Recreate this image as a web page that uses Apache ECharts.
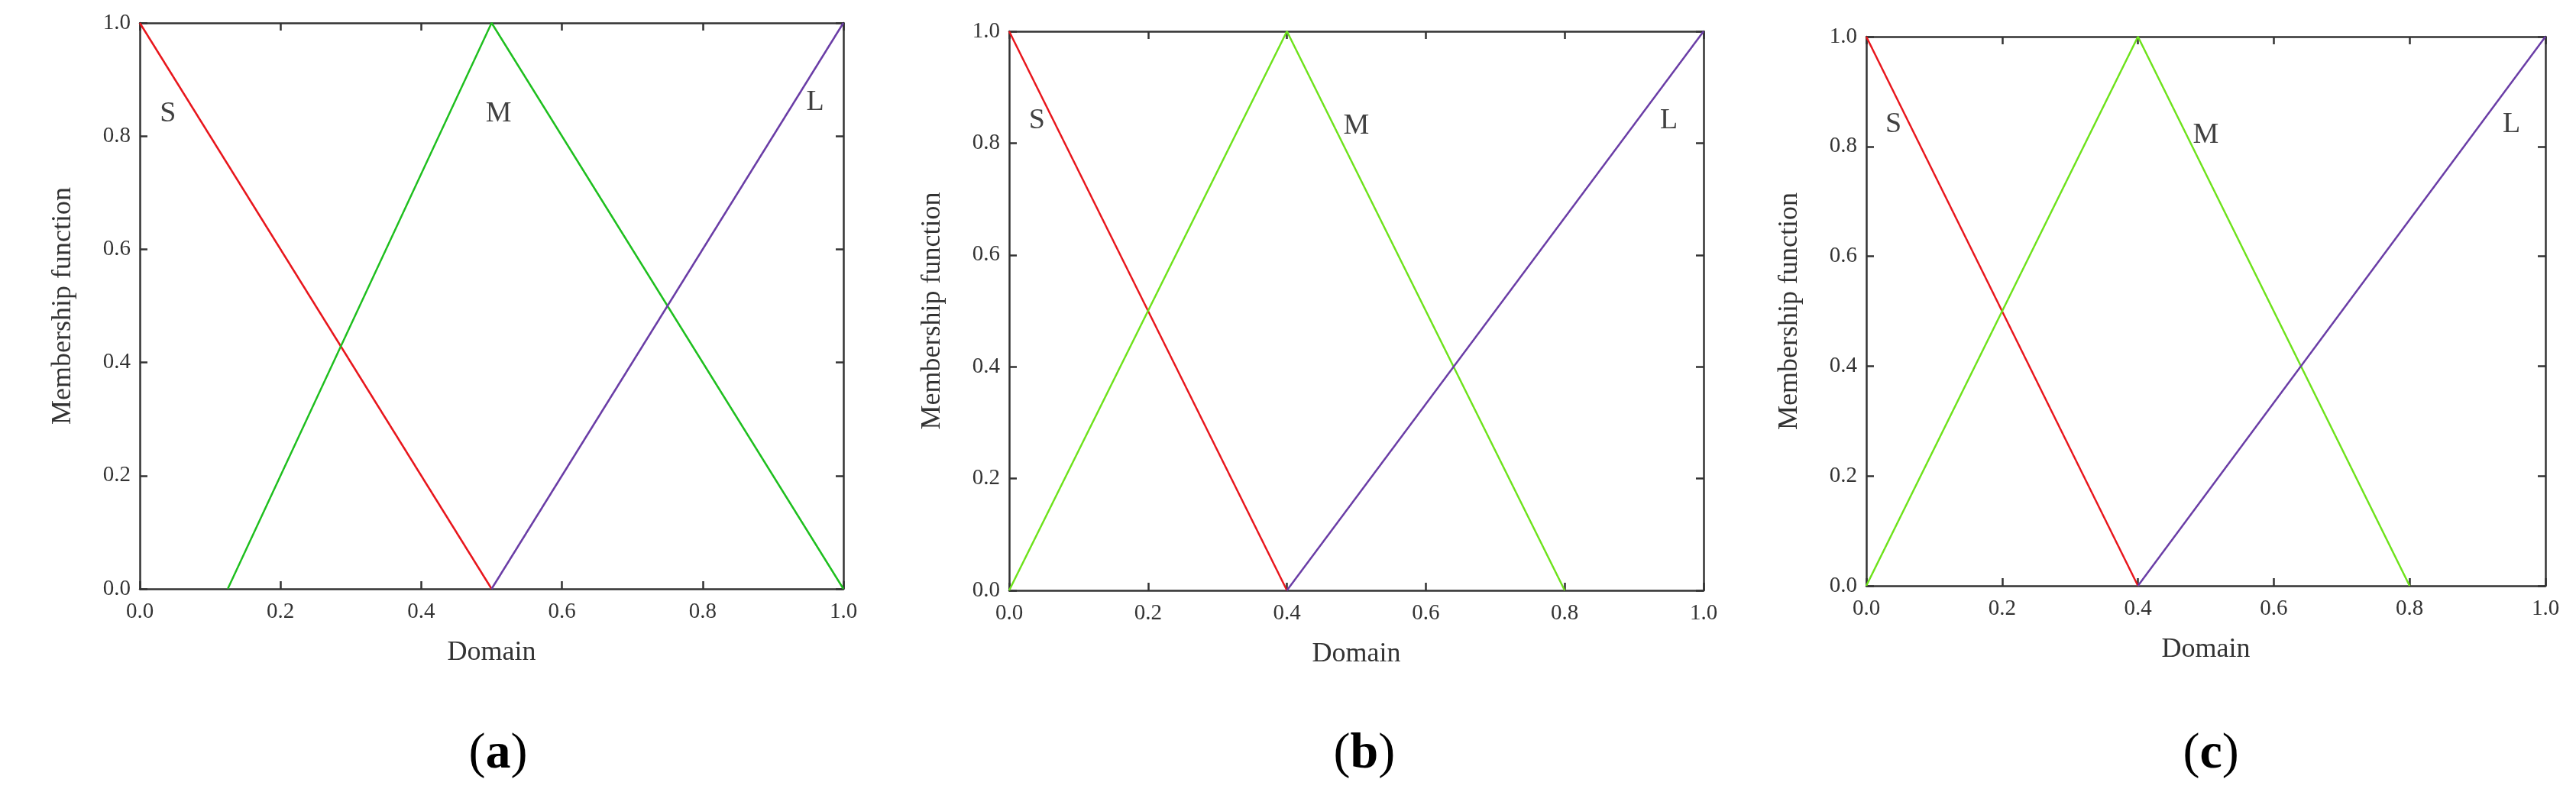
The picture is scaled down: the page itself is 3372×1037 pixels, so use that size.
<!DOCTYPE html>
<html lang="en">
<head>
    <meta charset="UTF-8">
    <script src="https://cdn.jsdelivr.net/npm/echarts@6/dist/echarts.min.js"></script>
    <title>Membership functions</title>
    <style>
        html, body { margin: 0; padding: 0; background: #fff; }
        #main { width: 3372px; height: 1037px; }
    </style>
</head>
<body>
    <div id="main"></div>
    <script>
        // panel data (x = domain, y = membership)
        var sA = [[0, 1], [0.5, 0]];
        var mA = [[0.125, 0], [0.5, 1], [1, 0]];
        var lA = [[0.5, 0], [1, 1]];
        var sB = [[0, 1], [0.4, 0]];
        var mB = [[0, 0], [0.4, 1], [0.8, 0]];
        var lB = [[0.4, 0], [1, 1]];
        var sC = [[0, 1], [0.4, 0]];
        var mC = [[0, 0], [0.4, 1], [0.8, 0]];
        var lC = [[0.4, 0], [1, 1]];
        // S/M/L text positions in data coords
        var labelsA = [[0.04, 0.84, 'S'], [0.51, 0.84, 'M'], [0.96, 0.86, 'L']];
        var labelsB = [[0.04, 0.84, 'S'], [0.5, 0.83, 'M'], [0.95, 0.84, 'L']];
        var labelsC = [[0.04, 0.84, 'S'], [0.5, 0.82, 'M'], [0.95, 0.84, 'L']];
        var captions = ['a', 'b', 'c'];

        var font = '"Liberation Serif", "DejaVu Serif", serif';
        var grids = [
            { left: 183, width: 921, top: 30, height: 741 },
            { left: 1321, width: 909, top: 41, height: 732 },
            { left: 2443, width: 889, top: 48, height: 719 }
        ];
        var panels = [
            { s: sA, m: mA, l: lA, labels: labelsA, green: '#1fbf1f' },
            { s: sB, m: mB, l: lB, labels: labelsB, green: '#6ee21c' },
            { s: sC, m: mC, l: lC, labels: labelsC, green: '#6ee21c' }
        ];

        var xAxis = [], yAxis = [], series = [], graphic = [];
        function fmt(v) { return v.toFixed(1); }
        grids.forEach(function (g, i) {
            var lineStyle = { color: '#333', width: 2.5 };
            var tick = { show: true, inside: true, length: 10, lineStyle: { color: '#333', width: 2.5 } };
            xAxis.push({
                type: 'value', gridIndex: i, min: 0, max: 1, interval: 0.2, position: 'bottom',
                name: 'Domain', nameLocation: 'middle', nameGap: 66,
                nameTextStyle: { fontFamily: font, fontSize: 36, color: '#333' },
                axisLine: { show: true, onZero: false, lineStyle: lineStyle },
                axisTick: tick, splitLine: { show: false },
                axisLabel: { formatter: fmt, fontFamily: font, fontSize: 29, color: '#333', margin: 16 }
            });
            xAxis.push({
                type: 'value', gridIndex: i, min: 0, max: 1, interval: 0.2, position: 'top',
                axisLine: { show: true, onZero: false, lineStyle: lineStyle },
                axisTick: tick, splitLine: { show: false }, axisLabel: { show: false }
            });
            yAxis.push({
                type: 'value', gridIndex: i, min: 0, max: 1, interval: 0.2, position: 'left',
                name: 'Membership function', nameLocation: 'middle', nameGap: 82,
                nameTextStyle: { fontFamily: font, fontSize: 36, color: '#333' },
                axisLine: { show: true, onZero: false, lineStyle: lineStyle },
                axisTick: tick, splitLine: { show: false },
                axisLabel: { formatter: fmt, fontFamily: font, fontSize: 29, color: '#333', margin: 12 }
            });
            yAxis.push({
                type: 'value', gridIndex: i, min: 0, max: 1, interval: 0.2, position: 'right',
                axisLine: { show: true, onZero: false, lineStyle: lineStyle },
                axisTick: tick, splitLine: { show: false }, axisLabel: { show: false }
            });
            var p = panels[i];
            var lines = [[p.s, '#e8161c'], [p.m, p.green], [p.l, '#6a3da6']];
            lines.forEach(function (ln) {
                series.push({
                    type: 'line', xAxisIndex: i * 2, yAxisIndex: i * 2, data: ln[0],
                    symbol: 'none', lineStyle: { color: ln[1], width: 2.5 }, animation: false
                });
            });
            series.push({
                type: 'scatter', xAxisIndex: i * 2, yAxisIndex: i * 2, symbolSize: 0,
                data: p.labels.map(function (d) { return { value: [d[0], d[1]], name: d[2] }; }),
                label: {
                    show: true, position: 'inside', formatter: '{b}',
                    fontFamily: font, fontSize: 38, color: '#111'
                },
                animation: false
            });
            // caption, letter bold and parentheses regular
            graphic.push({
                type: 'text', left: g.left + g.width / 2 - 30, top: 955,
                style: {
                    text: '{p|(}{b|' + captions[i] + '}{p|)}',
                    rich: {
                        p: { fontFamily: font, fontSize: 66, color: '#000' },
                        b: { fontFamily: font, fontSize: 66, fontWeight: 'bold', color: '#000' }
                    }
                }
            });
        });

        var chart = echarts.init(document.getElementById('main'));
        chart.setOption({
            backgroundColor: '#fff',
            animation: false,
            grid: grids,
            xAxis: xAxis,
            yAxis: yAxis,
            series: series,
            graphic: graphic
        });
    </script>
</body>
</html>
